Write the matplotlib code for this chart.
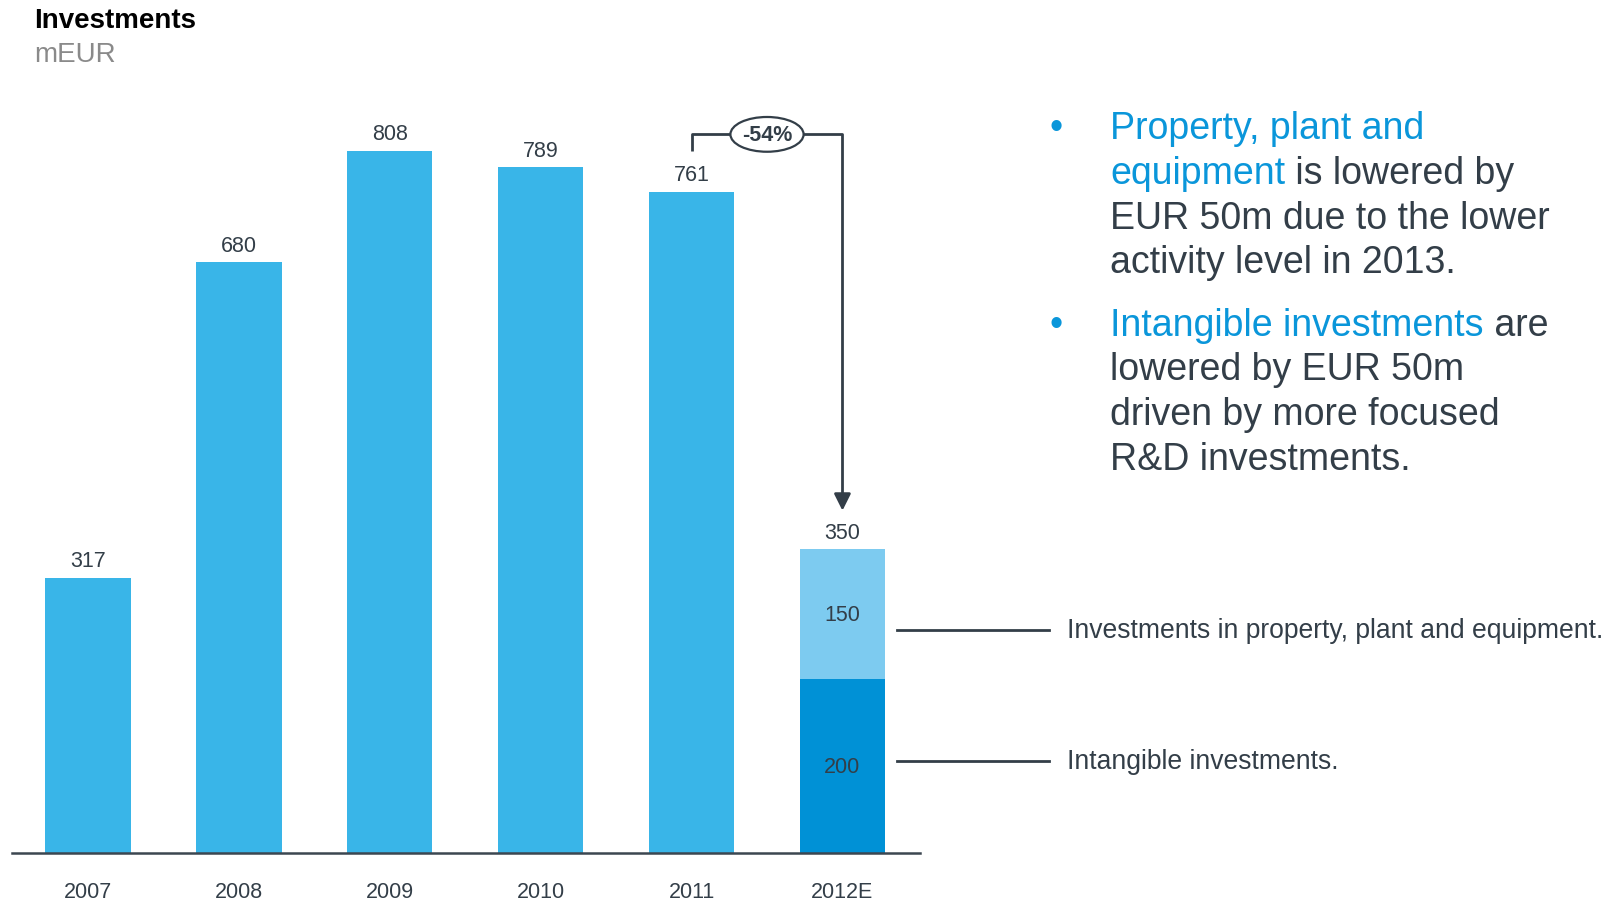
import matplotlib
matplotlib.use("Agg")
import matplotlib.pyplot as plt
from matplotlib.patches import Ellipse
from matplotlib.lines import Line2D

plt.rcParams['font.family'] = ['Liberation Sans', 'DejaVu Sans']

# ---- data -------------------------------------------------------------
years = ["2007", "2008", "2009", "2010", "2011", "2012E"]
actual = [317, 680, 808, 789, 761]          # 2007-2011
intangible_2012 = 200                        # 2012E, bottom segment
ppe_2012 = 150                               # 2012E, top segment
change_label = "-54%"

# ---- colours ----------------------------------------------------------
BAR = "#39B5E8"
PPE = "#7DCBF0"
INTANG = "#0091D6"
DARK = "#333E48"
BLUE = "#0A96DA"
GREY = "#8A8A8A"

W, H = 1612, 903
fig = plt.figure(figsize=(W / 100, H / 100), dpi=100)


def fx(x):
    return x / W


def fy(y):
    return 1 - y / H


# plot area in figure pixels
left, right, bottom, top = 12, 920, 854, 98
ax = fig.add_axes([fx(left), fy(bottom), (right - left) / W, (bottom - top) / H])
ax.set_xlim(-0.504, 5.514)
ax.set_ylim(0, 870)
for s in ["top", "right", "left"]:
    ax.spines[s].set_visible(False)
ax.spines["bottom"].set_color("#3C4650")
ax.spines["bottom"].set_linewidth(1.8)
ax.set_yticks([])

bw = 0.565
xs = list(range(len(years)))

ax.bar(xs[:5], actual, width=bw, color=BAR, zorder=2)
ax.bar(xs[5], intangible_2012, width=bw, color=INTANG, zorder=2)
ax.bar(xs[5], ppe_2012, bottom=intangible_2012, width=bw, color=PPE, zorder=2)

total_2012 = intangible_2012 + ppe_2012
label_kw = dict(ha="center", va="center", fontsize=15.5, color=DARK,
                textcoords="offset pixels")
for x, v in zip(xs[:5], actual):
    ax.annotate(f"{v}", xy=(x, v), xytext=(0, 17), **label_kw)
ax.annotate(f"{total_2012}", xy=(xs[5], total_2012), xytext=(0, 16), **label_kw)
ax.text(xs[5], intangible_2012 + ppe_2012 / 2, f"{ppe_2012}", ha="center",
        va="center", fontsize=15.5, color=DARK, zorder=3)
ax.text(xs[5], intangible_2012 / 2, f"{intangible_2012}", ha="center",
        va="center", fontsize=15.5, color=DARK, zorder=3)

ax.set_xticks(xs)
ax.set_xticklabels(years, fontsize=15.5, color=DARK)
ax.tick_params(axis="x", length=0, pad=20.5)

# change bracket from 2011 to 2012E
y_top = 827
y_start = 808
y_tip = 394
ax.plot([xs[4], xs[4], xs[5], xs[5]], [y_start, y_top, y_top, y_tip + 14],
        color=DARK, lw=2, solid_capstyle="butt", clip_on=False, zorder=4)
ax.annotate("", xy=(xs[5], y_tip), xytext=(xs[5], y_tip + 16),
            arrowprops=dict(arrowstyle="-|>,head_length=1.0,head_width=0.5",
                            color=DARK, lw=2, shrinkA=0, shrinkB=0),
            annotation_clip=False)
xm = (xs[4] + xs[5]) / 2
ax.add_patch(Ellipse((xm, y_top), width=0.485, height=40, facecolor="white",
                     edgecolor=DARK, lw=1.6, zorder=5, clip_on=False))
ax.text(xm, y_top, change_label, ha="center", va="center", fontsize=15.5,
        fontweight="bold", color=DARK, zorder=6)

# title
fig.text(fx(34), fy(21), "Investments", fontsize=20, fontweight="bold",
         color="black", va="center", ha="left")
fig.text(fx(34), fy(55), "mEUR", fontsize=20, color=GREY, va="center", ha="left")

# bullet text
FS = 27
LS = 44.8
tx = fx(1110)
bx = fx(1056)


def line(y, parts):
    first = fig.text(tx, fy(y), parts[0][0], color=parts[0][1], fontsize=FS,
                     va="baseline", ha="left")
    prev = first
    for s, c in parts[1:]:
        prev = ax.annotate(s, xy=(1, 0), xycoords=prev, va="bottom", ha="left",
                           color=c, fontsize=FS, annotation_clip=False)


b1 = [139 + i * LS for i in range(4)]
b2 = [335.5 + i * LS for i in range(4)]
fig.text(bx, fy(b1[0]), "\u2022", color=BLUE, fontsize=FS, va="baseline", ha="center")
line(b1[0], [("Property, plant and", BLUE)])
line(b1[1], [("equipment", BLUE), (" is lowered by", DARK)])
line(b1[2], [("EUR 50m due to the lower", DARK)])
line(b1[3], [("activity level in 2013.", DARK)])

fig.text(bx, fy(b2[0]), "\u2022", color=BLUE, fontsize=FS, va="baseline", ha="center")
line(b2[0], [("Intangible investments", BLUE), (" are", DARK)])
line(b2[1], [("lowered by EUR 50m", DARK)])
line(b2[2], [("driven by more focused", DARK)])
line(b2[3], [("R&D investments.", DARK)])

# segment call-outs
for y, s in [(631, "Investments in property, plant and equipment."),
             (762, "Intangible investments.")]:
    fig.add_artist(Line2D([fx(897), fx(1049)], [fy(y), fy(y)], color=DARK, lw=2))
    fig.text(fx(1067), fy(y), s, fontsize=19.1, color=DARK, va="center", ha="left")

fig.savefig("out.png", dpi=100, facecolor="white")
